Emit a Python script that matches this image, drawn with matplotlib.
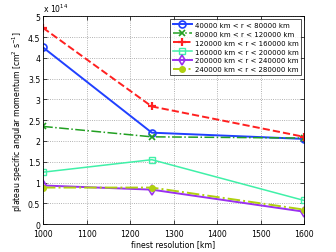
import matplotlib
matplotlib.use("Agg")
import matplotlib.pyplot as plt

resolution = [1000, 1250, 1600]
labels = [
    "40000 km < r < 80000 km",
    "80000 km < r < 120000 km",
    "120000 km < r < 160000 km",
    "160000 km < r < 200000 km",
    "200000 km < r < 240000 km",
    "240000 km < r < 280000 km",
]
# valores en unidades de 1e14 cm^2 s^-1
ring1 = [4.25, 2.20, 2.05]
ring2 = [2.35, 2.10, 2.07]
ring3 = [4.72, 2.83, 2.10]
ring4 = [1.25, 1.55, 0.57]
ring5 = [0.93, 0.83, 0.30]
ring6 = [0.88, 0.88, 0.35]

series = [ring1, ring2, ring3, ring4, ring5, ring6]
styles = [
    dict(color="#2040ff", ls="-", marker="o", lw=1.4, ms=5, mfc="none", mew=1.2),
    dict(color="#22a022", ls="-.", marker="x", lw=1.1, ms=4, mew=1.2),
    dict(color="#ff2020", ls="--", marker="+", lw=1.4, ms=6, mew=1.6),
    dict(color="#40f0a8", ls="-", marker="s", lw=1.1, ms=4, mfc="none", mew=1.0),
    dict(color="#9a30f0", ls="-", marker="d", lw=1.4, ms=5, mfc="none", mew=1.2),
    dict(color="#b0d010", ls="-.", marker="o", lw=1.4, ms=4, mew=1.0),
]

plt.rcParams["font.size"] = 5.6
fig = plt.figure(figsize=(3.36, 2.53), dpi=100)
ax = fig.add_axes([0.128, 0.11, 0.777, 0.822])

for vals, lab, st in zip(series, labels, styles):
    ax.plot(resolution, vals, label=lab, **st)

ax.set_xlim(1000, 1600)
ax.set_ylim(0, 5)
ax.set_xticks(range(1000, 1601, 100))
ax.set_yticks([0, 0.5, 1, 1.5, 2, 2.5, 3, 3.5, 4, 4.5, 5])
ax.set_yticklabels(["0", "0.5", "1", "1.5", "2", "2.5", "3", "3.5", "4", "4.5", "5"])
ax.grid(True, ls=":", color="#999999", lw=0.6)
ax.tick_params(direction="in", length=3, width=0.5, top=True, right=True)
ax.tick_params(axis="x", pad=3.5)
ax.tick_params(axis="y", pad=2)
for s in ax.spines.values():
    s.set_linewidth(0.6)
ax.text(0.0, 1.01, r"x 10$^{14}$", transform=ax.transAxes, fontsize=5.6, va="bottom")
ax.set_xlabel("finest resolution [km]", labelpad=1)
ax.set_ylabel(r"plateau specific angular momentum [cm$^2$ s$^{-1}$]", labelpad=2)

leg = ax.legend(loc="upper right", fontsize=5.0, frameon=True, fancybox=False,
                edgecolor="black", borderpad=0.35, labelspacing=0.42,
                handlelength=2.8, handletextpad=0.4, borderaxespad=0.45)
leg.get_frame().set_linewidth(0.6)

fig.savefig("out.png", dpi=100, facecolor="white")
